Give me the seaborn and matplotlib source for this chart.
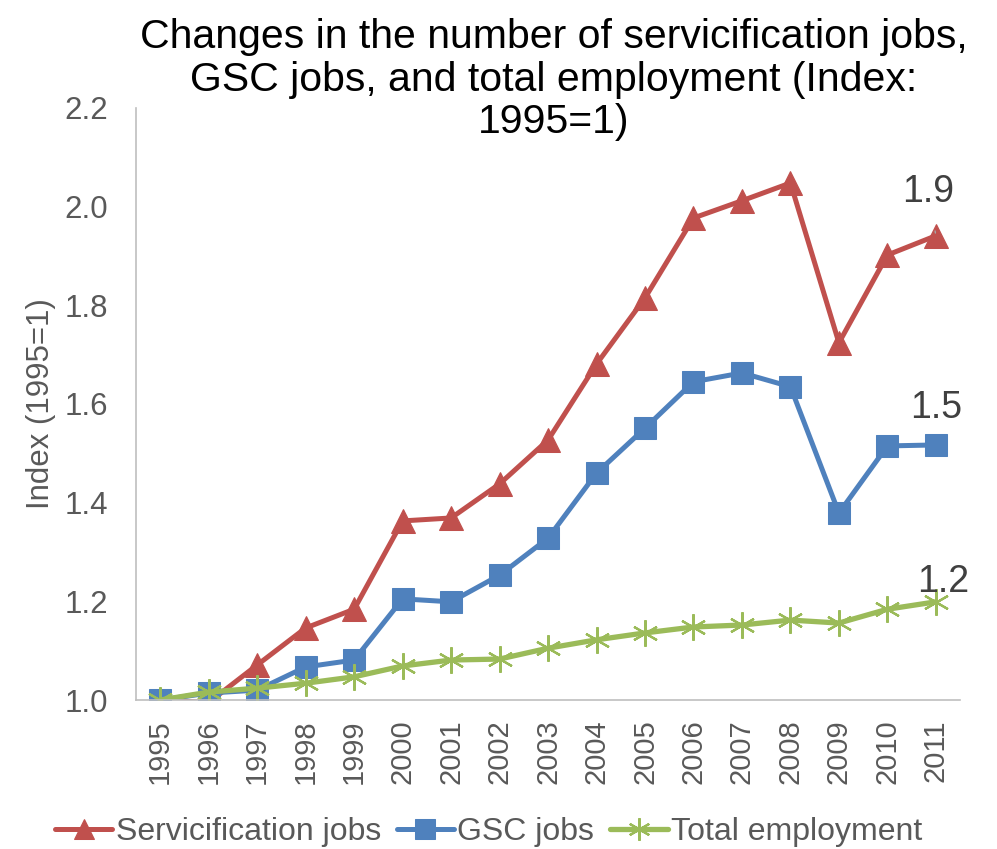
import matplotlib
matplotlib.use("Agg")
import matplotlib.pyplot as plt
import seaborn as sns
import numpy as np

years = [str(y) for y in range(1995, 2012)]
servicification = [1.000, 0.995, 1.071, 1.146, 1.184, 1.363, 1.369, 1.438, 1.527,
                   1.681, 1.815, 1.977, 2.012, 2.048, 1.724, 1.902, 1.941]
gsc = [1.000, 1.014, 1.020, 1.067, 1.081, 1.205, 1.199, 1.253, 1.328,
       1.460, 1.551, 1.645, 1.663, 1.635, 1.379, 1.515, 1.517]
total = [1.000, 1.016, 1.024, 1.034, 1.047, 1.069, 1.081, 1.083, 1.105,
         1.122, 1.136, 1.148, 1.152, 1.162, 1.156, 1.184, 1.199]
end_labels = ["1.9", "1.5", "1.2"]

sns.set_style("white")
plt.rcParams["font.family"] = ["Liberation Sans", "DejaVu Sans"]
txt = "#595959"

fig = plt.figure(figsize=(9.97, 8.49), dpi=100)
ax = fig.add_axes([0.1364, 0.1755, 0.963 - 0.1364, 0.8728 - 0.1755])

x = np.arange(len(years))
sns.lineplot(x=x, y=servicification, ax=ax, color="#C0504D", lw=3.6, marker="^",
             markersize=17, markeredgecolor="#C0504D", label="Servicification jobs")
sns.lineplot(x=x, y=gsc, ax=ax, color="#4F81BD", lw=3.6, marker="s",
             markersize=16.5, markeredgecolor="#4F81BD", label="GSC jobs")
sns.lineplot(x=x, y=total, ax=ax, color="#9BBB59", lw=3.8, marker=(6, 2, 0),
             markersize=19, markeredgewidth=1.6, markeredgecolor="#9BBB59",
             label="Total employment")

ax.set_xlim(-0.5, len(years) - 0.5)
ax.set_ylim(1.0, 2.2)
ax.set_yticks(np.arange(1.0, 2.21, 0.2))
ax.set_yticklabels([f"{v:.1f}" for v in np.arange(1.0, 2.21, 0.2)])
ax.set_xticks(x)
ax.set_xticklabels(years, rotation=90)
ax.set_xticks(np.arange(-0.5, len(years), 1), minor=True)
ax.tick_params(axis="x", which="major", length=0, pad=14, labelsize=21, colors=txt)
ax.tick_params(axis="x", which="minor", length=9, width=1, color="#BFBFBF", direction="out")
ax.tick_params(axis="y", length=7, width=1, color="#BFBFBF", direction="out",
               labelsize=22.5, colors=txt, pad=13)
for s in ["top", "right"]:
    ax.spines[s].set_visible(False)
for s in ["left", "bottom"]:
    ax.spines[s].set_color("#BFBFBF")
    ax.spines[s].set_linewidth(1.2)
ax.set_ylabel("Index (1995=1)", fontsize=22.5, color=txt, labelpad=6)

ax.annotate(end_labels[0], xy=(16, servicification[-1]), xytext=(15.85, 2.03),
            fontsize=27, color="#404040", ha="center", va="center",
            arrowprops=dict(arrowstyle="-", color="#A6A6A6", lw=1, shrinkA=13, shrinkB=2))
ax.text(16.0, 1.592, end_labels[1], fontsize=27, color="#404040", ha="center", va="center")
ax.text(16.15, 1.239, end_labels[2], fontsize=27, color="#404040", ha="center", va="center")

fig.text(0.555, 0.906, "Changes in the number of servicification jobs,\nGSC jobs, and total employment (Index:\n1995=1)",
         fontsize=29.5, ha="center", va="center", linespacing=1.15, color="black")

ax.get_legend().remove()
h, l = ax.get_legend_handles_labels()
fig.legend(h, l, loc="center", bbox_to_anchor=(0.49, 1 - 832 / 849), ncol=3, frameon=False,
           fontsize=23, labelcolor=txt, handlelength=1.8, handletextpad=0.1,
           columnspacing=0.5, markerscale=0.85)

fig.savefig("out.png", dpi=100)
